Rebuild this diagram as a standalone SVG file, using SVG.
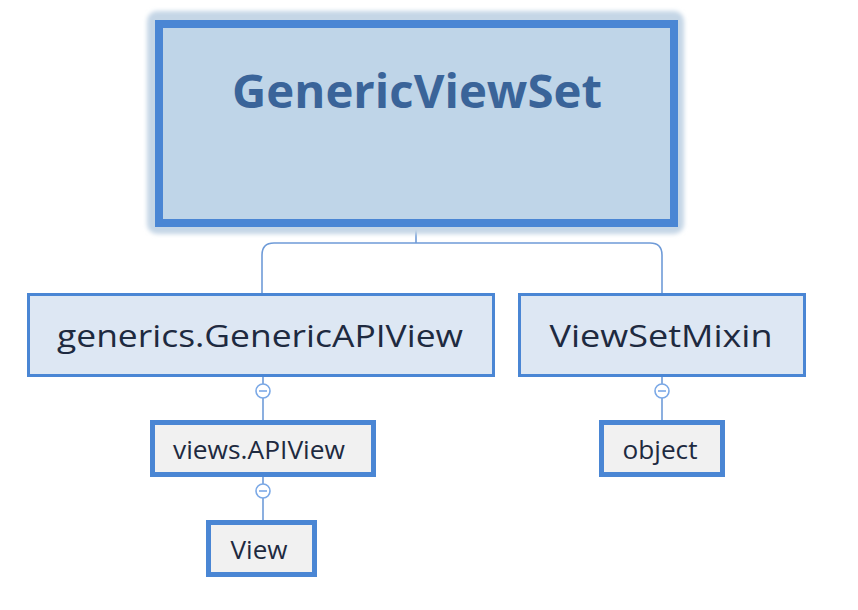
<svg xmlns="http://www.w3.org/2000/svg" width="858" height="610" viewBox="0 0 858 610">
<defs>
<filter id="blur" x="-10%" y="-10%" width="120%" height="120%"><feGaussianBlur stdDeviation="2"/></filter>
</defs>
<style>
.conn{fill:none;stroke:#6f9bd8;stroke-width:1.6}
.node2{fill:#dde7f3;stroke:#4a86d4;stroke-width:3}
.node3{fill:#f1f1f1;stroke:#4a86d4;stroke-width:5}
.lbl{font-family:"Open Sans","Liberation Sans",sans-serif;text-anchor:middle;fill:#1e2a40}
.tog{fill:#ffffff;stroke:#7aa8e6;stroke-width:1.6}
.togm{stroke:#7aa8e6;stroke-width:1.6}
</style>
<rect width="858" height="610" fill="#ffffff"/>
<g id="connectors">
<path class="conn" d="M416,227 V243 M262,293 V255 Q262,243 274,243 H650 Q662,243 662,255 V293"/>
<path class="conn" d="M263,377 V421"/>
<path class="conn" d="M263,477 V520"/>
<path class="conn" d="M662,377 V421"/>
</g>
<g id="node-genericviewset">
<rect x="147" y="11" width="537" height="223" rx="10" fill="#c5d6e6" filter="url(#blur)"/>
<rect x="159" y="24" width="515" height="199" fill="#bfd5e8" stroke="#4a86d4" stroke-width="8"/>
<text class="lbl" x="417" y="108" font-size="46" font-weight="bold" style="fill:#3a6499" textLength="370" lengthAdjust="spacingAndGlyphs">GenericViewSet</text>
</g>
<g id="node-genericapiview">
<rect class="node2" x="28.5" y="294.5" width="465" height="81"/>
<text class="lbl" x="260" y="347" font-size="31" textLength="406" lengthAdjust="spacingAndGlyphs">generics.GenericAPIView</text>
</g>
<g id="node-viewsetmixin">
<rect class="node2" x="519.5" y="294.5" width="285" height="81"/>
<text class="lbl" x="661" y="347" font-size="31" textLength="223" lengthAdjust="spacingAndGlyphs">ViewSetMixin</text>
</g>
<g id="node-apiview">
<rect class="node3" x="152.5" y="422.5" width="221" height="52"/>
<text class="lbl" x="259" y="459" font-size="25" textLength="172" lengthAdjust="spacingAndGlyphs">views.APIView</text>
</g>
<g id="node-view">
<rect class="node3" x="208.5" y="522.5" width="106" height="52"/>
<text class="lbl" x="259" y="559" font-size="25" textLength="57" lengthAdjust="spacingAndGlyphs">View</text>
</g>
<g id="node-object">
<rect class="node3" x="601.5" y="422.5" width="121" height="52"/>
<text class="lbl" x="660" y="459" font-size="25" textLength="75" lengthAdjust="spacingAndGlyphs">object</text>
</g>
<g id="toggles">
<circle class="tog" cx="263" cy="391" r="7"/><path class="togm" d="M259,391 H267"/>
<circle class="tog" cx="263" cy="491" r="7"/><path class="togm" d="M259,491 H267"/>
<circle class="tog" cx="662" cy="391" r="7"/><path class="togm" d="M658,391 H666"/>
</g>
</svg>
